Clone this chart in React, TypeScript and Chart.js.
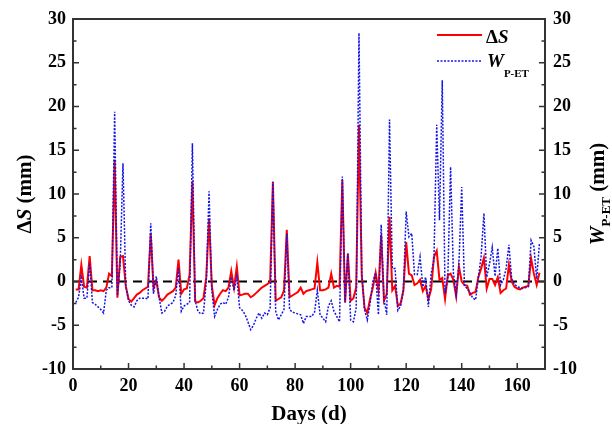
import { useEffect, useRef } from "react";
import { Chart, registerables } from "chart.js";

Chart.register(...registerables);

// ---- data ----
const days = [
  1, 2, 3, 4, 5, 6, 7, 8, 9, 10, 11, 12, 13, 14, 15, 16, 17, 18, 19, 20,
  21, 22, 23, 24, 25, 26, 27, 28, 29, 30, 31, 32, 33, 34, 35, 36, 37, 38, 39, 40,
  41, 42, 43, 44, 45, 46, 47, 48, 49, 50, 51, 52, 53, 54, 55, 56, 57, 58, 59, 60,
  61, 62, 63, 64, 65, 66, 67, 68, 69, 70, 71, 72, 73, 74, 75, 76, 77, 78, 79, 80,
  81, 82, 83, 84, 85, 86, 87, 88, 89, 90, 91, 92, 93, 94, 95, 96, 97, 98, 99, 100,
  101, 102, 103, 104, 105, 106, 107, 108, 109, 110, 111, 112, 113, 114, 115, 116, 117, 118, 119, 120,
  121, 122, 123, 124, 125, 126, 127, 128, 129, 130, 131, 132, 133, 134, 135, 136, 137, 138, 139, 140,
  141, 142, 143, 144, 145, 146, 147, 148, 149, 150, 151, 152, 153, 154, 155, 156, 157, 158, 159, 160,
  161, 162, 163, 164, 165, 166, 167, 168,
];

const deltaS = [
  -0.9, -0.9, 1.9, -0.6, -0.7, 2.9, -1.0, -1.0, -1.1, -1.0,
  -1.1, -0.7, 0.9, 0.6, 13.9, -1.85, 2.8, 2.9, -0.5, -2.0,
  -2.3, -1.9, -1.5, -1.3, -1.0, -0.8, -0.6, 5.5, -0.7, 0.1,
  -1.8, -2.2, -1.9, -1.5, -1.3, -1.1, -0.7, 2.5, -1.4, -0.9,
  -0.8, 0.8, 11.4, -2.3, -2.4, -2.2, -1.9, 0.5, 7.2, -0.5,
  -2.7, -1.9, -1.4, -1.0, -1.1, -0.7, 1.2, -0.7, 1.7, -1.6,
  -1.5, -1.4, -1.4, -1.8, -1.6, -1.3, -1.0, -0.7, -0.5, -0.3,
  -0.05, 11.4, -2.2, -2.0, -1.8, -1.0, 5.9, -1.8, -1.6, -1.4,
  -1.2, -0.7, -1.4, -1.1, -1.0, -0.9, -0.8, 2.2, -1.0, -1.0,
  -0.9, -0.7, 0.9, -0.7, -0.5, -0.6, 11.6, -2.4, 3.2, -2.2,
  -1.9, -0.7, 17.9, 0.7, -3.0, -3.6, -2.0, -0.7, 1.0, -1.0,
  5.3, -2.2, -1.4, 7.4, -1.0, -0.5, -2.8, -2.5, -1.0, 4.5,
  0.9, 0.7, -0.4, -0.2, 0.2, -1.1, -0.5, -2.0, -0.9, 2.8,
  3.5, 0.2, 0.4, -2.0, 0.7, 0.9, 0.2, -1.7, 1.7, 0.0,
  -0.4, -0.5, -1.5, -1.3, -1.2, 0.5, 1.5, 2.7, -0.8, 0.3,
  0.3, -0.4, 0.5, -1.3, -1.0, -0.8, 1.9, 0.0, -0.6, -0.8,
  -0.9, -0.7, -0.6, -0.5, 2.65, 0.9, -0.4, 1.0,
];

const wPET = [
  -2.4, -1.8, 0.4, -1.9, -1.9, 2.1, -2.4, -2.6, -2.9, -3.2,
  -3.6, -1.0, -0.7, -0.7, 19.4, -1.6, 2.0, 13.5, -0.5, -2.2,
  -2.7, -2.9, -2.2, -1.9, -1.9, -1.9, -2.0, 6.65, -1.4, 0.6,
  -1.8, -3.6, -3.4, -2.8, -2.6, -2.4, -1.6, 1.6, -3.4, -2.8,
  -2.6, -2.4, 15.8, -2.2, -3.4, -3.7, -3.6, 0.0, 10.3, -1.0,
  -4.0, -3.2, -2.6, -2.4, -2.6, -1.8, 0.5, -1.0, 0.5, -3.0,
  -3.3, -3.8, -4.6, -5.5, -5.0, -4.2, -3.6, -4.2, -3.6, -3.8,
  -3.0, 11.4, -3.4, -4.4, -3.8, -3.2, 5.5, -3.2, -3.5, -3.6,
  -3.7, -3.8, -4.8, -4.0, -4.0, -4.0, -3.5, -1.0, -3.8, -4.2,
  -4.6, -2.8, -2.2, -3.4, -4.0, -4.6, 12.0, -2.4, 3.2, -4.4,
  -4.6, -3.0, 28.4, 1.0, -3.2, -4.4, -2.5, 0.0, 1.0, -3.8,
  6.5, -2.0, -3.8, 18.5, 1.5, 1.5, -3.3, -2.8, -1.0, 8.0,
  5.1, 5.5, 0.8, 0.8, 2.8, -0.6, 0.5, -2.9, 0.9, 2.5,
  17.9, 7.0, 23.0, -1.4, 0.5, 13.1, 1.0, -1.5, 2.0, 10.8,
  -0.5, -0.8, -1.3, -1.9, -2.1, 0.5, 2.9, 7.8, 0.5, 2.0,
  3.9, 0.6, 3.8, -0.4, 0.2, 1.5, 4.2, 0.3, -0.3, -0.6,
  -0.7, -0.8, -0.7, -0.6, 4.7, 4.0, 0.3, 4.4,
];

const xTicks = [0, 20, 40, 60, 80, 100, 120, 140, 160];
const xMinorTicks = [10, 30, 50, 70, 90, 110, 130, 150, 170];
const yTicks = [-10, -5, 0, 5, 10, 15, 20, 25, 30];
const yMinorTicks = [-7.5, -2.5, 2.5, 7.5, 12.5, 17.5, 22.5, 27.5];

const X_MIN = 0;
const X_MAX = 170;
const Y_MIN = -10;
const Y_MAX = 30;

const RED = "#ff0000";
const BLUE = "#1414e6";
const SERIF = "'Liberation Serif', 'Times New Roman', serif";

function drawPieces(
  ctx: CanvasRenderingContext2D,
  pieces: { text: string; font: string; dy?: number }[],
  x: number,
  y: number,
  align: "left" | "center"
) {
  let total = 0;
  for (const p of pieces) {
    ctx.font = p.font;
    total += ctx.measureText(p.text).width;
  }
  let cx = align === "center" ? x - total / 2 : x;
  ctx.textAlign = "left";
  ctx.textBaseline = "alphabetic";
  for (const p of pieces) {
    ctx.font = p.font;
    ctx.fillText(p.text, cx, y + (p.dy || 0));
    cx += ctx.measureText(p.text).width;
  }
}

const decorPlugin = {
  id: "decor",
  beforeDatasetsDraw(chart: any) {
    const { ctx, chartArea: a, scales } = chart;
    const y0 = scales.y.getPixelForValue(0);
    ctx.save();
    ctx.strokeStyle = "#000";
    ctx.lineWidth = 2;
    ctx.setLineDash([9, 6]);
    ctx.beginPath();
    ctx.moveTo(a.left, y0);
    ctx.lineTo(a.right, y0);
    ctx.stroke();
    ctx.restore();
  },
  afterDraw(chart: any) {
    const { ctx, chartArea: a, scales } = chart;
    ctx.save();
    // frame
    ctx.strokeStyle = "#333";
    ctx.lineWidth = 2;
    ctx.setLineDash([]);
    ctx.strokeRect(a.left, a.top, a.right - a.left, a.bottom - a.top);

    // inward ticks
    ctx.lineWidth = 1.5;
    const major = 6;
    const minor = 3.5;
    ctx.beginPath();
    for (const t of xTicks) {
      const px = scales.x.getPixelForValue(t);
      ctx.moveTo(px, a.bottom);
      ctx.lineTo(px, a.bottom - major);
    }
    for (const t of xMinorTicks) {
      if (t >= X_MAX) continue;
      const px = scales.x.getPixelForValue(t);
      ctx.moveTo(px, a.bottom);
      ctx.lineTo(px, a.bottom - minor);
    }
    for (const t of yTicks) {
      const py = scales.y.getPixelForValue(t);
      ctx.moveTo(a.left, py);
      ctx.lineTo(a.left + major, py);
      ctx.moveTo(a.right, py);
      ctx.lineTo(a.right - major, py);
    }
    for (const t of yMinorTicks) {
      const py = scales.y.getPixelForValue(t);
      ctx.moveTo(a.left, py);
      ctx.lineTo(a.left + minor, py);
      ctx.moveTo(a.right, py);
      ctx.lineTo(a.right - minor, py);
    }
    ctx.stroke();

    ctx.fillStyle = "#000";
    const big = `bold 21px ${SERIF}`;
    const bigIt = `italic bold 21px ${SERIF}`;
    const sub = `bold 13px ${SERIF}`;
    const midY = (a.top + a.bottom) / 2;

    // left title
    ctx.save();
    ctx.translate(31, midY);
    ctx.rotate(-Math.PI / 2);
    drawPieces(
      ctx,
      [
        { text: "\u0394", font: big },
        { text: "S", font: bigIt },
        { text: " (mm)", font: big },
      ],
      0,
      0,
      "center"
    );
    ctx.restore();

    // right title
    ctx.save();
    ctx.translate(604, midY);
    ctx.rotate(-Math.PI / 2);
    drawPieces(
      ctx,
      [
        { text: "W", font: bigIt },
        { text: "P-ET", font: sub, dy: 6 },
        { text: " (mm)", font: big },
      ],
      0,
      0,
      "center"
    );
    ctx.restore();

    // bottom title
    drawPieces(ctx, [{ text: "Days (d)", font: big }], (a.left + a.right) / 2, 420, "center");

    // legend
    ctx.lineWidth = 2;
    ctx.strokeStyle = RED;
    ctx.beginPath();
    ctx.moveTo(437, 35);
    ctx.lineTo(482, 35);
    ctx.stroke();
    ctx.strokeStyle = BLUE;
    ctx.lineWidth = 1.5;
    ctx.setLineDash([2, 1.5]);
    ctx.beginPath();
    ctx.moveTo(437, 61);
    ctx.lineTo(482, 61);
    ctx.stroke();
    ctx.setLineDash([]);
    const lg = `bold 19px ${SERIF}`;
    const lgIt = `italic bold 19px ${SERIF}`;
    drawPieces(
      ctx,
      [
        { text: "\u0394", font: lg },
        { text: "S", font: lgIt },
      ],
      486,
      43,
      "left"
    );
    drawPieces(
      ctx,
      [
        { text: "W", font: lgIt },
        { text: "P-ET", font: `bold 11px ${SERIF}`, dy: 10 },
      ],
      487,
      67,
      "left"
    );
    ctx.restore();
  },
};

export default function App() {
  const ref = useRef<HTMLCanvasElement | null>(null);

  useEffect(() => {
    if (!ref.current) return;
    const tickFont = { family: SERIF, size: 18, weight: "bold" as const };
    const chart = new Chart(ref.current, {
      type: "line",
      data: {
        datasets: [
          {
            label: "\u0394S",
            data: days.map((d, i) => ({ x: d, y: deltaS[i] })),
            borderColor: RED,
            borderWidth: 2,
            pointRadius: 0,
            tension: 0,
            yAxisID: "y",
            order: 1,
          },
          {
            label: "W P-ET",
            data: days.map((d, i) => ({ x: d, y: wPET[i] })),
            borderColor: BLUE,
            borderWidth: 1.5,
            borderDash: [2, 1.5],
            pointRadius: 0,
            tension: 0,
            yAxisID: "y1",
            order: 0,
          },
        ],
      },
      options: {
        animation: false,
        responsive: false,
        devicePixelRatio: 1,
        layout: { padding: { top: 19, left: 0, right: 0, bottom: 0 } },
        plugins: { legend: { display: false }, tooltip: { enabled: false } },
        scales: {
          x: {
            type: "linear",
            min: X_MIN,
            max: X_MAX,
            grid: { display: false, drawTicks: false },
            border: { display: false },
            afterBuildTicks: (s: any) => {
              s.ticks = xTicks.map((v) => ({ value: v }));
            },
            afterFit: (s: any) => {
              s.height = 55;
            },
            ticks: { font: tickFont, color: "#000", padding: 7, maxRotation: 0 },
          },
          y: {
            type: "linear",
            position: "left",
            min: Y_MIN,
            max: Y_MAX,
            grid: { display: false, drawTicks: false },
            border: { display: false },
            afterBuildTicks: (s: any) => {
              s.ticks = yTicks.map((v) => ({ value: v }));
            },
            afterFit: (s: any) => {
              s.width = 73;
            },
            ticks: { font: tickFont, color: "#000", padding: 7 },
          },
          y1: {
            type: "linear",
            position: "right",
            min: Y_MIN,
            max: Y_MAX,
            grid: { display: false, drawTicks: false },
            border: { display: false },
            afterBuildTicks: (s: any) => {
              s.ticks = yTicks.map((v) => ({ value: v }));
            },
            afterFit: (s: any) => {
              s.width = 67;
            },
            ticks: { font: tickFont, color: "#000", padding: 8 },
          },
        },
      },
      plugins: [decorPlugin],
    });
    return () => chart.destroy();
  }, []);

  return (
    <div style={{ position: "absolute", left: 0, top: 0, width: 612, height: 424, background: "#fff" }}>
      <canvas ref={ref} width={612} height={424} style={{ width: 612, height: 424, display: "block" }} />
    </div>
  );
}
